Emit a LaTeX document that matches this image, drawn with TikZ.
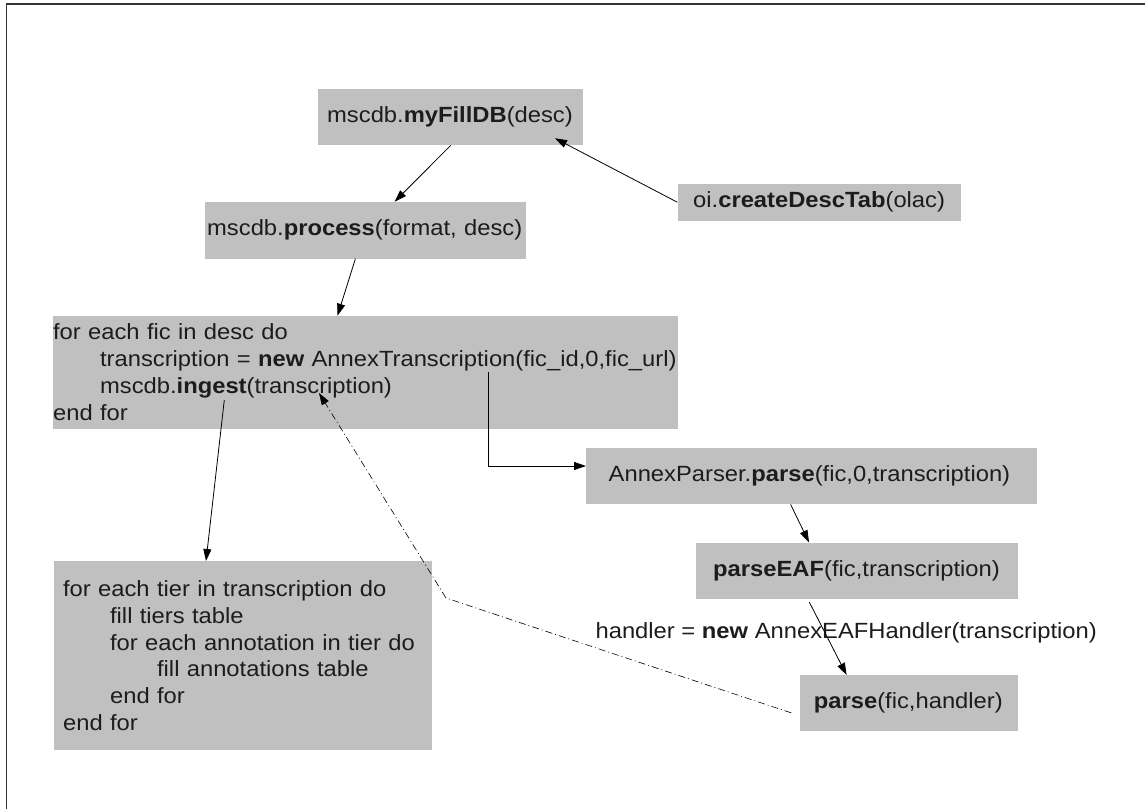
\documentclass[tikz,border=0pt]{standalone}
\usepackage{fontspec}
\setmainfont{Liberation Sans}[FakeStretch=1.08]
\usetikzlibrary{arrows.meta,calc}
\definecolor{boxgray}{RGB}{192,192,192}
\definecolor{inkc}{RGB}{28,28,28}
\begin{document}
\begin{tikzpicture}[x=1pt,y=-1pt,
  txt/.style={text=inkc, font=\fontsize{22}{26.8}\selectfont},
  box/.style n args={4}{txt, fill=boxgray, anchor=north west, inner ysep=0pt,
     align=left, minimum width=#1, minimum height=#2, inner xsep=#3, text width=#4},
  conn/.style={draw=black, line width=0.8pt, -{Triangle[length=12pt,width=8pt]}},
  back/.style={draw=black, line width=0.6pt, dash pattern=on 7pt off 3pt on 1pt off 3pt,
     -{Triangle[length=12pt,width=8pt]}}]
\useasboundingbox (0,0) rectangle (1145,809);
% frame
\draw[line width=1.3pt, black!80] (6.5,809) -- (6.5,4) -- (1145,4);

% boxes
\node[box={265pt}{56.7pt}{9pt}{247pt}] (fill) at (318,88.3)
  {\mbox{mscdb.\textbf{myFillDB}(desc)}};
\node[box={283.2pt}{37.4pt}{15.7pt}{251.8pt}] (desc) at (677.3,183.3)
  {\mbox{oi.\textbf{createDescTab}(olac)}};
\node[box={321.2pt}{56.6pt}{2.4pt}{316.4pt}] (proc) at (204.6,201.7)
  {\mbox{mscdb.\textbf{process}(format, desc)}};
\node[box={624.4pt}{112.6pt}{0pt}{624.4pt}] (loop) at (52.9,315.7)
  {\mbox{for each fic in desc do}\\
   \mbox{\hspace*{47pt}transcription = \textbf{new} AnnexTranscription(fic\_id,0,fic\_url)}\\
   \mbox{\hspace*{47pt}mscdb.\textbf{ingest}(transcription)}\\
   \mbox{end for}};
\node[box={451pt}{56.3pt}{22.5pt}{406pt}] (parser) at (586,447.7)
  {\mbox{AnnexParser.\textbf{parse}(fic,0,transcription)}};
\node[box={321.6pt}{56.7pt}{16.8pt}{288pt}] (eaf) at (696.2,542.3)
  {\mbox{\textbf{parseEAF}(fic,transcription)}};
\node[box={217.8pt}{56pt}{13.7pt}{190.4pt}] (parse) at (800,675)
  {\mbox{\textbf{parse}(fic,handler)}};
\node[box={378pt}{189pt}{9.4pt}{359.2pt}] (tier) at (53.5,561)
  {\mbox{for each tier in transcription do}\\
   \mbox{\hspace*{47pt}fill tiers table}\\
   \mbox{\hspace*{47pt}for each annotation in tier do}\\
   \mbox{\hspace*{94pt}fill annotations table}\\
   \mbox{\hspace*{47pt}end for}\\
   \mbox{end for}};
\node[txt, anchor=base west, inner sep=0pt] (hlabel) at (595.4,638.3)
  {handler = \textbf{new} AnnexEAFHandler(transcription)};

\coordinate (bend) at (446,598);

% connectors
\draw[conn] ($(fill.south west)+(132.7,0)$) -- ($(proc.north west)+(190,0)$);
\draw[conn] (desc.west) -- ($(fill.north west)+(237,50)$);
\draw[conn] ($(proc.south west)+(150.8,0)$) -- ($(loop.north west)+(284.6,0)$);
\draw[conn] ($(loop.north west)+(435.1,56)$) |- ($(parser.north west)+(0,18.3)$);
\draw[conn] ($(loop.north west)+(171.4,84.3)$) -- ($(tier.north west)+(152.5,0)$);
\draw[conn] ($(parser.south west)+(204.6,0)$) -- ($(eaf.north west)+(112.8,0)$);
\draw[conn] ($(eaf.south west)+(113.1,2.7)$) -- ($(parse.north west)+(46.6,0)$);
\draw[back] ($(parse.west)+(-8.7,9.7)$) -- (bend) -- ($(loop.north west)+(266.1,77.3)$);
\end{tikzpicture}
\end{document}
